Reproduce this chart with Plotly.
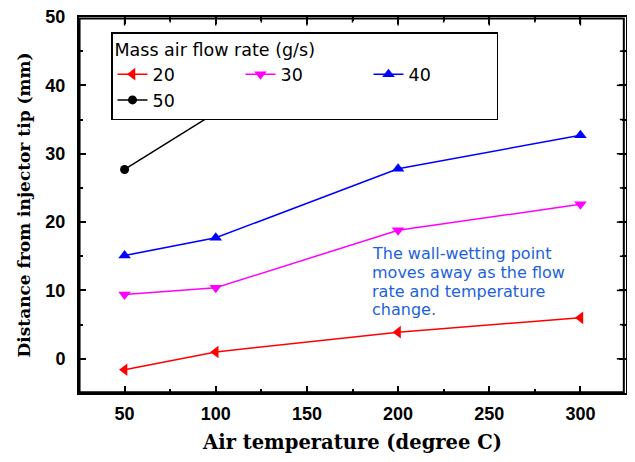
import plotly.graph_objects as go

temps = [50, 100, 200, 300]
flow_20 = [-1.6, 1.0, 3.9, 6.0]
flow_30 = [9.4, 10.4, 18.8, 22.6]
flow_40 = [15.1, 17.7, 27.8, 32.7]
temps_50 = [50, 100]
flow_50 = [27.7, 36.0]

x_ticks = [50, 100, 150, 200, 250, 300]
y_ticks = [0, 10, 20, 30, 40, 50]

note_lines = ["The wall-wetting point", "moves away as the flow",
              "rate and temperature", "change."]

series = [
    ("20", temps, flow_20, "#ff0000", "triangle-left"),
    ("30", temps, flow_30, "#ff00ff", "triangle-down"),
    ("40", temps, flow_40, "#0000ff", "triangle-up"),
    ("50", temps_50, flow_50, "#000000", "circle"),
]

fig = go.Figure()
for name, xs, ys, col, sym in series:
    fig.add_trace(go.Scatter(
        x=xs, y=ys, name=name, mode="lines+markers",
        line=dict(color=col, width=1.5),
        marker=dict(symbol=sym, size=11 if sym != "circle" else 9, color=col),
    ))
fig.add_trace(go.Scatter(x=[None], y=[None], xaxis="x2", yaxis="y2",
                         showlegend=False, hoverinfo="skip"))

serif = "DejaVu Serif, serif"
sans = "DejaVu Sans, sans-serif"
tick_sans = "Liberation Sans, Arial, sans-serif"

axis_common = dict(
    showline=True, linecolor="black", linewidth=2,
    ticks="inside", ticklen=7, tickwidth=1.5, tickcolor="black",
    showgrid=False, zeroline=False, automargin=False,
    ticklabeloverflow="allow",
    tickfont=dict(family=tick_sans, size=18, color="black", weight="bold"),
    minor=dict(ticks="inside", ticklen=4, tickwidth=1.5, tickcolor="black"),
)

x_range = [25, 325]
y_range = [-5, 50]

fig.update_layout(
    xaxis=dict(range=x_range, tickvals=x_ticks, minor_dtick=25,
               ticklabelstandoff=3,
               title=dict(text="Air temperature (degree C)",
                          font=dict(family=serif, size=19.5, color="black", weight="bold"),
                          standoff=20),
               **axis_common),
    yaxis=dict(range=y_range, tickvals=y_ticks, minor_dtick=5,
               ticklabelstandoff=8,
               title=dict(text="Distance from injector tip (mm)",
                          font=dict(family=serif, size=17, color="black", weight="bold"),
                          standoff=10),
               **axis_common),
    xaxis2=dict(range=x_range, tickvals=x_ticks, minor_dtick=25, side="top",
                overlaying="x", anchor="y", showticklabels=False,
                **axis_common),
    yaxis2=dict(range=y_range, tickvals=y_ticks, minor_dtick=5, side="right",
                overlaying="y", anchor="x", showticklabels=False,
                **axis_common),
)

# page has an 8px body margin; keep the whole figure inside the window
fig_w, fig_h = 619, 446
m_l, m_r, m_t, m_b = 71, 1, 9, 61
plot_w = fig_w - m_l - m_r
plot_h = fig_h - m_t - m_b

# plot frame, drawn just inside the plot area
top_y = 0.996
right_x = 0.996
fig.add_shape(type="rect", xref="x domain", yref="y domain",
              x0=0.001, x1=right_x, y0=0.002, y1=top_y,
              line=dict(color="black", width=2), fillcolor="rgba(0,0,0,0)",
              layer="above")

# mirrored ticks on the top and right edges, placed via the axes' own scales
x_step = x_ticks[1] - x_ticks[0]
y_step = y_ticks[1] - y_ticks[0]
x_minor = [t + x_step / 2 for t in x_ticks[:-1]] + [x_ticks[0] - x_step / 2, x_ticks[-1] + x_step / 2]
y_minor = [t + y_step / 2 for t in y_ticks[:-1]]
for vals, length in ((x_ticks, 7), (x_minor, 4)):
    for t in vals:
        if x_range[0] < t < x_range[1]:
            fig.add_shape(type="line", xref="x", yref="y domain", x0=t, x1=t,
                          y0=top_y, y1=top_y - length / plot_h,
                          line=dict(color="black", width=1.5), layer="above")
for vals, length in ((y_ticks, 7), (y_minor, 4)):
    for t in vals:
        if y_range[0] < t < y_range[1]:
            fig.add_shape(type="line", xref="x domain", yref="y", y0=t, y1=t,
                          x0=right_x, x1=right_x - length / plot_w,
                          line=dict(color="black", width=1.5), layer="above")

line_ys = [253, 272, 291, 309]
for txt, py in zip(note_lines, line_ys):
    fig.add_annotation(
        x=(370 - 8 - m_l) / plot_w, y=1 - (py - 8 - m_t) / plot_h,
        xref="paper", yref="paper", xanchor="left", yanchor="middle",
        text=txt, showarrow=False, align="left",
        font=dict(family=sans, size=16, color="#1c63d8"),
    )

fig.update_layout(
    width=fig_w, height=fig_h,
    margin=dict(l=m_l, r=m_r, t=m_t, b=m_b),
    paper_bgcolor="white", plot_bgcolor="white",
    legend=dict(
        orientation="h", x=0.064, y=0.96, xanchor="left", yanchor="top",
        bordercolor="black", borderwidth=1.5, bgcolor="white",
        title=dict(text="Mass air flow rate (g/s)", side="top",
                   font=dict(family=sans, size=17.5, color="black")),
        font=dict(family=sans, size=17.5, color="black"),
        entrywidth=83, entrywidthmode="pixels",
        tracegroupgap=0,
    ),
    showlegend=True,
)

fig.write_html("out.html")
